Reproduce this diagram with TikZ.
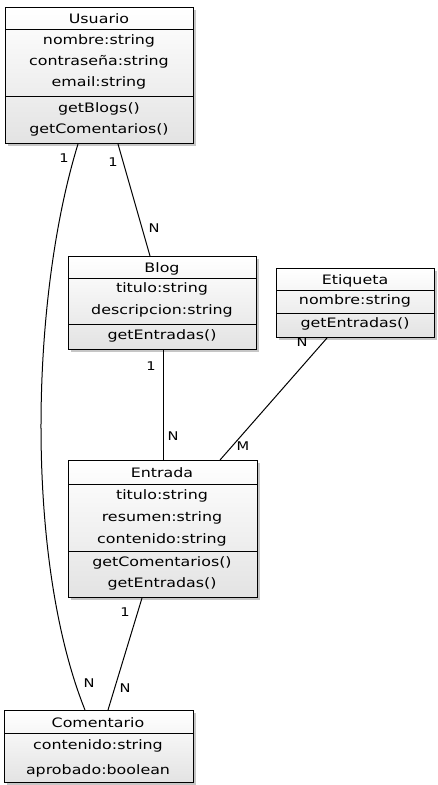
\documentclass[tikz,border=0pt]{standalone}
\usepackage{fontspec}
\setmainfont[FakeStretch=1.22]{DejaVu Sans}
\usetikzlibrary{calc,shadows}
\begin{document}
\begin{tikzpicture}[x=1pt,y=-1pt,
  cls/.style={draw=black, line width=1pt, top color=white, bottom color=black!11,
    drop shadow={shadow xshift=2pt, shadow yshift=-2pt, opacity=0.45}, inner sep=0, anchor=north west},
  txt/.style={font=\fontsize{13}{15}\selectfont, inner sep=0, anchor=base},
  sep/.style={line width=1pt},
  lnk/.style={line width=1pt},
  lbl/.style={font=\fontsize{12}{14}\selectfont, inner sep=0}]
\useasboundingbox (0,0) rectangle (437,785);
% Usuario
\node[cls, minimum width=188pt, minimum height=136pt] (usuario) at (5,7) {};
\node[txt] (u0) at (99,23) {Usuario};
\draw[sep] (5,29) -- (193,29);
\node[txt] (u1) at (99,44) {nombre:string};
\node[txt] (u2) at (99,65) {contraseña:string};
\node[txt] (u3) at (99,86) {email:string};
\draw[sep] (5,96) -- (193,96);
\node[txt] (u4) at (99,112) {getBlogs()};
\node[txt] (u5) at (99,133) {getComentarios()};
% Blog
\node[cls, minimum width=188pt, minimum height=93pt] (blog) at (68,256) {};
\node[txt] (b0) at (162,272) {Blog};
\draw[sep] (68,278) -- (256,278);
\node[txt] (b1) at (162,292) {titulo:string};
\node[txt] (b2) at (162,314) {descripcion:string};
\draw[sep] (68,324) -- (256,324);
\node[txt] (b3) at (162,339) {getEntradas()};
% Etiqueta
\node[cls, minimum width=158pt, minimum height=69pt] (etiqueta) at (276,268) {};
\node[txt] (e0) at (355,284) {Etiqueta};
\draw[sep] (276,290) -- (434,290);
\node[txt] (e1) at (355,304) {nombre:string};
\draw[sep] (276,313) -- (434,313);
\node[txt] (e2) at (355,327) {getEntradas()};
% Entrada
\node[cls, minimum width=189pt, minimum height=137pt] (entrada) at (68,460) {};
\node[txt] (n0) at (162,477) {Entrada};
\draw[sep] (68,484) -- (257,484);
\node[txt] (n1) at (162,499) {titulo:string};
\node[txt] (n2) at (162,521) {resumen:string};
\node[txt] (n3) at (162,543) {contenido:string};
\draw[sep] (68,551) -- (257,551);
\node[txt] (n4) at (162,566) {getComentarios()};
\node[txt] (n5) at (162,587) {getEntradas()};
% Comentario
\node[cls, minimum width=189pt, minimum height=72pt] (comentario) at (4,710) {};
\node[txt] (c0) at (98,727) {Comentario};
\draw[sep] (4,733) -- (193,733);
\node[txt] (c1) at (98,749) {contenido:string};
\node[txt] (c2) at (98,774) {aprobado:boolean};
% connectors
\draw[lnk] ([xshift=73pt]usuario.south west) .. controls (30,300) and (25,560) .. ([xshift=81pt]comentario.north west);
\draw[lnk] ([xshift=113pt]usuario.south west) -- ([xshift=82pt]blog.north west);
\draw[lnk] ([xshift=95pt]blog.south west) -- ([xshift=95pt]entrada.north west);
\draw[lnk] ([xshift=51pt]etiqueta.south west) -- ([xshift=152pt]entrada.north west);
\draw[lnk] ([xshift=74pt]entrada.south west) -- ([xshift=104pt]comentario.north west);
% labels
\node[lbl] (l1) at (64,158) {1};
\node[lbl] (l2) at (89,683) {N};
\node[lbl] (l3) at (113,162) {1};
\node[lbl] (l4) at (154,228) {N};
\node[lbl] (l5) at (151,366) {1};
\node[lbl] (l6) at (173,436) {N};
\node[lbl] (l7) at (302,342) {N};
\node[lbl] (l8) at (243,446) {M};
\node[lbl] (l9) at (125,612) {1};
\node[lbl] (l10) at (125,688) {N};
\end{tikzpicture}
\end{document}
